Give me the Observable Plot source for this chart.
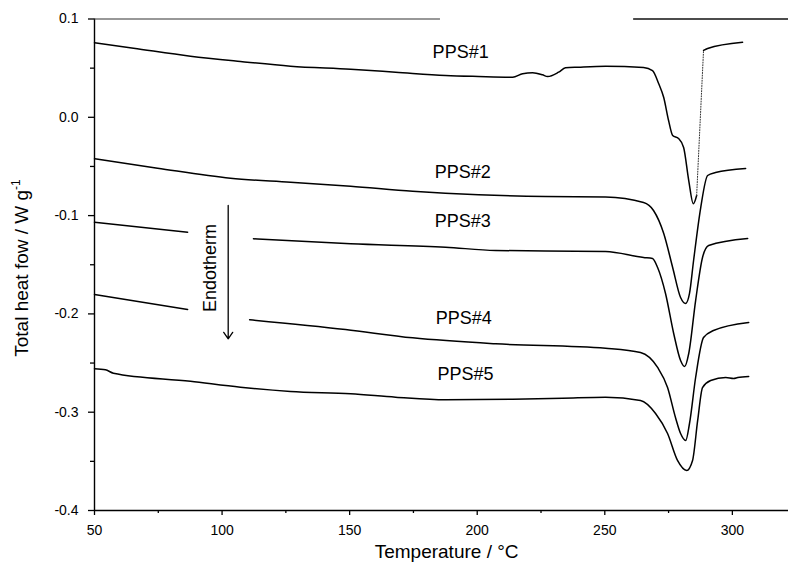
<!DOCTYPE html>
<html>
<head>
<meta charset="utf-8">
<script src="https://cdn.jsdelivr.net/npm/d3@7"></script>
<script src="https://cdn.jsdelivr.net/npm/@observablehq/plot@0.6"></script>
<style>
  html, body { margin: 0; padding: 0; background: #fff; }
  #chart { width: 788px; height: 564px; }
</style>
</head>
<body>
<div id="chart"></div>
<script>
// ---- Data (temperature °C, total heat flow W/g) ----
const pps1 = [[50,0.0758],[65.3,0.0703],[87.6,0.0622],[107.2,0.0568],[126.8,0.0520],[150.4,0.0489],[168.0,0.0459],[187.6,0.0425],[200.5,0.0415],[213.9,0.0408],[217.8,0.0443],[221.7,0.0453],[225.6,0.0432],[227.6,0.0415],[231.9,0.0459],[234.6,0.0503],[239.7,0.0510],[250.3,0.0520],[265.2,0.0507],[268.7,0.0476],[271.1,0.0344],[273.1,0.0201],[275.0,-0.0033],[276.6,-0.0185],[278.9,-0.0216],[280.9,-0.0307],[282.9,-0.0643],[284.7,-0.0880],[286.0,-0.0796]];
const pps1Rise = [[286.0,-0.0796],[288.7,0.0680]];
const pps1Tail = [[288.7,0.0680],[290.3,0.0700],[304.0,0.0764]];
const pps2 = [[50,-0.0422],[74.7,-0.0518],[103.3,-0.0620],[126.8,-0.0660],[150.4,-0.0701],[174.7,-0.0752],[200.5,-0.0788],[226.8,-0.0806],[250.3,-0.0810],[265.2,-0.0867],[269.1,-0.0948],[273.1,-0.1182],[276.6,-0.1528],[279.7,-0.1833],[281.7,-0.1894],[283.2,-0.1792],[284.8,-0.1457],[287.6,-0.0918],[290.3,-0.0592],[293.4,-0.0562],[305.2,-0.0521]];
const pps3 = [[50,-0.1067],[86.5,-0.1169],[99,NaN],[112.3,-0.1236],[150.4,-0.1287],[187.6,-0.1321],[207.2,-0.1355],[250.3,-0.1365],[265.2,-0.1426],[268.7,-0.1436],[270.7,-0.1528],[273.8,-0.1792],[277.0,-0.2199],[279.7,-0.2474],[281.3,-0.2535],[282.9,-0.2403],[285.6,-0.1864],[288.3,-0.1426],[290.7,-0.1304],[306.0,-0.1233]];
const pps4 = [[50,-0.1803],[86.5,-0.1955],[99,NaN],[110.8,-0.2060],[148.4,-0.2159],[174.7,-0.2243],[207.2,-0.2304],[250.3,-0.2350],[264.0,-0.2393],[270.7,-0.2545],[274.6,-0.2749],[277.7,-0.3054],[279.7,-0.3217],[281.7,-0.3288],[283.2,-0.3115],[285.6,-0.2647],[288.7,-0.2240],[292.6,-0.2169],[306.4,-0.2087]];
const pps5 = [[50,-0.2558],[54.3,-0.2569],[57.4,-0.2603],[87.6,-0.2685],[107.2,-0.2746],[126.8,-0.2789],[150.4,-0.2813],[168.0,-0.2847],[187.6,-0.2874],[213.9,-0.2868],[233.5,-0.2858],[250.3,-0.2848],[264.0,-0.2881],[269.9,-0.3013],[274.6,-0.3217],[278.5,-0.3491],[282.1,-0.3593],[284.4,-0.3491],[286.4,-0.3084],[288.3,-0.2749],[291.5,-0.2678],[297.4,-0.2647],[300.5,-0.2657],[302.1,-0.2647],[306.4,-0.2637]];

const seriesNames = ["PPS#1","PPS#2","PPS#3","PPS#4","PPS#5"];
const labelT = [193.5, 194.3, 194.3, 194.7, 195.4];
const labelV = [0.0662, -0.0558, -0.1057, -0.2040, -0.2609];

const xTicks = [50, 100, 150, 200, 250, 300];
const xMinorTicks = [75, 125, 175, 225, 275];
const yTicks = [0.1, 0.0, -0.1, -0.2, -0.3, -0.4];
const yMinorTicks = [0.05, -0.05, -0.15, -0.25, -0.35];

const xTitle = "Temperature / °C";
const yTitle = "Total heat fow / W g";
const yTitleSup = "-1";
const endoText = "Endotherm";
const endoArrow = [{t: 102.4, v1: -0.0897, v2: -0.2253}];
const endoLabel = [{t: 95.3, v: -0.1533}];

const toRows = arr => arr.map(([t, v]) => ({t, v}));
const labels = seriesNames.map((name, i) => ({name, t: labelT[i], v: labelV[i]}));
const lineOpts = {x: "t", y: "v", stroke: "black", strokeWidth: 1.5, curve: "monotone-x"};
const FONT = "'Liberation Sans', Arial, sans-serif";

const plot = Plot.plot({
  width: 788,
  height: 564,
  marginLeft: 94,
  marginRight: 0,
  marginTop: 18.5,
  marginBottom: 54,
  style: {fontFamily: FONT, fontSize: "14px", background: "#fff", color: "#000"},
  x: {domain: [50, 322], label: null},
  y: {domain: [-0.4, 0.1], label: null},
  marks: [
    // axis frame
    Plot.ruleX([50], {stroke: "#000", strokeWidth: 1.4}),
    Plot.ruleY([-0.4], {stroke: "#000", strokeWidth: 1.4}),
    Plot.ruleY([0.1], {x1: 50, x2: 185.6, stroke: "#333", strokeWidth: 1.1}),
    Plot.ruleY([0.1], {x1: 261.3, x2: 322, stroke: "#111", strokeWidth: 1.3}),
    // ticks and labels
    Plot.axisY(yTicks, {tickSize: 6, tickPadding: 10, tickFormat: d => d.toFixed(1), fontSize: 14, label: null, strokeWidth: 1.3}),
    Plot.axisY(yMinorTicks, {tickSize: 4, tickFormat: () => "", label: null, strokeWidth: 1.3}),
    Plot.axisX(xTicks, {tickSize: 5, tickPadding: 10, tickFormat: d => String(d), fontSize: 14, label: null, strokeWidth: 1.3}),
    Plot.axisX(xMinorTicks, {tickSize: 3, tickFormat: () => "", label: null, strokeWidth: 1.3}),
    // curves
    Plot.line(toRows(pps1), lineOpts),
    Plot.line(toRows(pps1Rise), {x: "t", y: "v", stroke: "#333", strokeWidth: 1, strokeDasharray: "1,1.6"}),
    Plot.line(toRows(pps1Tail), lineOpts),
    Plot.line(toRows(pps2), lineOpts),
    Plot.line(toRows(pps3), lineOpts),
    Plot.line(toRows(pps4), lineOpts),
    Plot.line(toRows(pps5), lineOpts),
    // series labels
    Plot.text(labels, {x: "t", y: "v", text: "name", fontSize: 18, fill: "#000"}),
    // endotherm annotation
    Plot.arrow(endoArrow, {x: "t", y1: "v1", y2: "v2", stroke: "#000", strokeWidth: 1.3, headLength: 9, headAngle: 70}),
    Plot.text(endoLabel, {x: "t", y: "v", text: () => endoText, rotate: -90, fontSize: 18, fill: "#000"}),
    // x title
    Plot.text([xTitle], {x: 188, y: -0.4, dy: 41, fontSize: 19, fill: "#000"})
  ]
});

document.getElementById("chart").appendChild(plot);

// y title with superscript
const svg = d3.select(plot);
const yt = svg.append("text")
  .attr("transform", "translate(28,268) rotate(-90)")
  .attr("text-anchor", "middle")
  .attr("font-family", FONT)
  .attr("font-size", 19)
  .attr("fill", "#000");
yt.append("tspan").text(yTitle);
yt.append("tspan").attr("dy", -8).attr("font-size", 12).text(yTitleSup);
</script>
</body>
</html>
